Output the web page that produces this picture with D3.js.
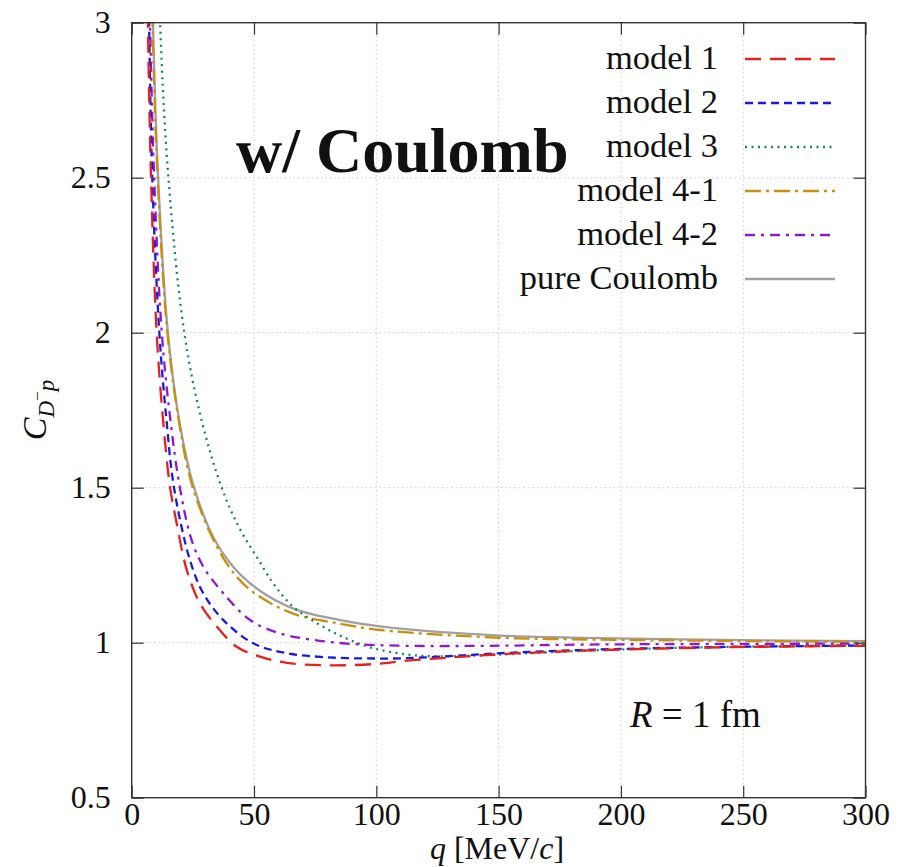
<!DOCTYPE html>
<html>
<head>
<meta charset="utf-8">
<script src="https://cdn.jsdelivr.net/npm/d3@7"></script>
<style>
  html, body { margin: 0; padding: 0; background: #fff; }
  svg { display: block; }
  text { font-family: "Liberation Serif", "DejaVu Serif", serif; fill: #111; }
</style>
</head>
<body>
<div id="chart"></div>
<script>
// Correlation function C(q) of D^- p for R = 1 fm, with the Coulomb interaction
const xTicks = [0, 50, 100, 150, 200, 250, 300];
const yTicks = [0.5, 1, 1.5, 2, 2.5, 3];
const yTickLabels = ["0.5", "1", "1.5", "2", "2.5", "3"];

const seriesNames = ["model 1", "model 2", "model 3", "model 4-1", "model 4-2", "pure Coulomb"];

// [q (MeV/c), C]
const model1 = [[5.5,3.6],[6.6,3.0],[7.9,2.5],[10.2,2.0],[12.8,1.72],[15.7,1.5],[18.4,1.385],[22.5,1.235],[27.9,1.127],
  [34.8,1.052],[42.9,0.987],[52.5,0.955],[63.4,0.935],[79.7,0.927],[98.8,0.931],[112.4,0.942],[135.6,0.955],
  [153.3,0.964],[191.4,0.976],[240,0.985],[300,0.99]];
const model2 = [[5.8,3.6],[7.1,3.0],[8.4,2.5],[11.3,2.0],[14.2,1.72],[17.3,1.5],[23.8,1.267],[29.3,1.159],[37.5,1.073],
  [49.7,0.998],[63.4,0.966],[79.7,0.953],[98.8,0.949],[112.4,0.95],[137,0.96],[153.3,0.967],[191,0.978],
  [240,0.986],[300,0.991]];
const model3 = [[9.8,3.6],[11.6,3.0],[15.0,2.5],[21.5,2.0],[28.5,1.72],[36.8,1.5],[44,1.37],[51.1,1.277],[58,1.19],[66,1.116],
  [79.7,1.045],[89.2,1.009],[98.8,0.982],[112.4,0.962],[126,0.956],[150.6,0.962],[191.4,0.976],[240,0.986],[300,0.991]];
const model41 = [[7.2,3.6],[8.5,3.0],[10.6,2.5],[14.6,2.0],[19.8,1.69],[25.0,1.5],[34.8,1.31],[42.9,1.213],[51.1,1.155],
  [66,1.094],[85.2,1.061],[101.5,1.041],[150.6,1.016],[190,1.01],[240,1.006],[300,1.003]];
const model42 = [[6.2,3.6],[7.5,3.0],[9.2,2.5],[12.3,2.0],[15.8,1.72],[19.7,1.5],[24.5,1.331],[29.3,1.245],[37.5,1.159],
  [48.4,1.073],[60.6,1.030],[74.2,1.009],[90,0.996],[112.4,0.99],[146,0.99],[186,0.994],[240,0.996],[300,0.997]];
const pureCoulomb = [[7.4,3.6],[8.7,3.0],[10.8,2.5],[14.8,2.0],[20,1.69],[25.5,1.5],[33.4,1.34],[41.5,1.245],[51.1,1.175],
  [66.1,1.110],[85.2,1.073],[101.5,1.053],[150.6,1.023],[191.4,1.015],[250,1.008],[300,1.005]];

const seriesData = [model1, model2, model3, model41, model42, pureCoulomb];
const seriesColors = ["#e8201c", "#1a1ae0", "#12875a", "#c8900c", "#9018d0", "#a0a0a0"];
const seriesDash = ["16,9", "8,5", "2,4.5", "16,5,3,5", "10,6,3,6", null];

const W = 908, H = 867;
const margin = { left: 131.7, right: W - 865.5, top: 22.7, bottom: H - 797.7 };
const serif = "Liberation Serif, DejaVu Serif, serif";

const svg = d3.select("#chart").append("svg").attr("width", W).attr("height", H)
  .attr("font-family", serif);

const x = d3.scaleLinear().domain([0, 300]).range([margin.left, W - margin.right]);
const y = d3.scaleLinear().domain([0.5, 3]).range([H - margin.bottom, margin.top]);

// grid
const grid = svg.append("g").attr("stroke", "#c8c8c8").attr("stroke-width", 1).attr("stroke-dasharray", "1.5,3");
grid.selectAll(".gx").data(xTicks.slice(1, -1)).join("line")
  .attr("x1", d => x(d)).attr("x2", d => x(d)).attr("y1", y(0.5)).attr("y2", y(3));
grid.selectAll(".gy").data(yTicks.slice(1, -1)).join("line")
  .attr("y1", d => y(d)).attr("y2", d => y(d)).attr("x1", x(0)).attr("x2", x(300));

// clip
svg.append("clipPath").attr("id", "plotclip").append("rect")
  .attr("x", x(0)).attr("y", y(3)).attr("width", x(300) - x(0)).attr("height", y(0.5) - y(3));

const line = d3.line().x(d => x(d[0])).y(d => y(d[1])).curve(d3.curveCatmullRom.alpha(0.5));

const curves = svg.append("g").attr("clip-path", "url(#plotclip)");
// gray first so the colored curves sit on top
const order = [5, 3, 2, 4, 1, 0];
order.forEach(i => {
  curves.append("path").datum(seriesData[i])
    .attr("d", line).attr("fill", "none")
    .attr("stroke", seriesColors[i]).attr("stroke-width", 2.3)
    .attr("stroke-dasharray", seriesDash[i]);
});

// axes with inward ticks, mirrored on top/right
const tickLen = 12;
const axisColor = "#333";
const styleLabels = g => g.selectAll("text")
  .attr("font-family", serif).style("font-family", serif)
  .style("font-size", "32px").attr("fill", "#111");

svg.append("g").attr("transform", `translate(0,${y(0.5)})`)
  .call(d3.axisBottom(x).tickValues(xTicks).tickSize(-tickLen).tickPadding(5).tickFormat(d3.format("d")))
  .call(g => g.select(".domain").remove())
  .call(styleLabels);
svg.append("g").attr("transform", `translate(0,${y(3)})`)
  .call(d3.axisTop(x).tickValues(xTicks).tickSize(-tickLen).tickFormat(""))
  .call(g => g.select(".domain").remove());
svg.append("g").attr("transform", `translate(${x(0)},0)`)
  .call(d3.axisLeft(y).tickValues(yTicks).tickSize(-tickLen).tickPadding(21).tickFormat((d, i) => yTickLabels[i]))
  .call(g => g.select(".domain").remove())
  .call(styleLabels);
svg.append("g").attr("transform", `translate(${x(300)},0)`)
  .call(d3.axisRight(y).tickValues(yTicks).tickSize(-tickLen).tickFormat(""))
  .call(g => g.select(".domain").remove());
svg.selectAll(".tick line").attr("stroke", axisColor).attr("stroke-width", 1.2);

svg.append("rect").attr("x", x(0)).attr("y", y(3)).attr("width", x(300) - x(0)).attr("height", y(0.5) - y(3))
  .attr("fill", "none").attr("stroke", axisColor).attr("stroke-width", 1.4);

// legend
const legend = svg.append("g");
const legY0 = 57, legDy = 44;
seriesNames.forEach((name, i) => {
  const yy = legY0 + i * legDy;
  legend.append("text").attr("x", 718).attr("y", yy).attr("text-anchor", "end")
    .attr("dominant-baseline", "central").style("font-size", "34.5px").text(name);
  legend.append("line").attr("x1", 745).attr("x2", 835).attr("y1", yy + 2).attr("y2", yy + 2)
    .attr("stroke", seriesColors[i]).attr("stroke-width", 2.3).attr("stroke-dasharray", seriesDash[i]);
});

// annotations
svg.append("text").attr("x", 236).attr("y", 172)
  .style("font-size", "64px").style("font-weight", "bold")
  .text("w/ Coulomb");

const rt = svg.append("text").attr("x", 630).attr("y", 727).style("font-size", "37px");
rt.append("tspan").style("font-style", "italic").text("R");
rt.append("tspan").text(" = 1 fm");

// axis titles
const xt = svg.append("text").attr("x", 497).attr("y", 859).attr("text-anchor", "middle").style("font-size", "32px");
xt.append("tspan").style("font-style", "italic").text("q");
xt.append("tspan").text(" [MeV/");
xt.append("tspan").style("font-style", "italic").text("c");
xt.append("tspan").text("]");

const yt = svg.append("text").attr("transform", "translate(46,410) rotate(-90)").attr("text-anchor", "middle")
  .style("font-size", "34px");
yt.append("tspan").style("font-style", "italic").text("C");
yt.append("tspan").attr("dy", 8).style("font-size", "23px").style("font-style", "italic").text("D");
yt.append("tspan").attr("dy", -11).style("font-size", "17px").text("−");
yt.append("tspan").attr("dy", 11).style("font-size", "23px").style("font-style", "italic").text("p");
</script>
</body>
</html>
